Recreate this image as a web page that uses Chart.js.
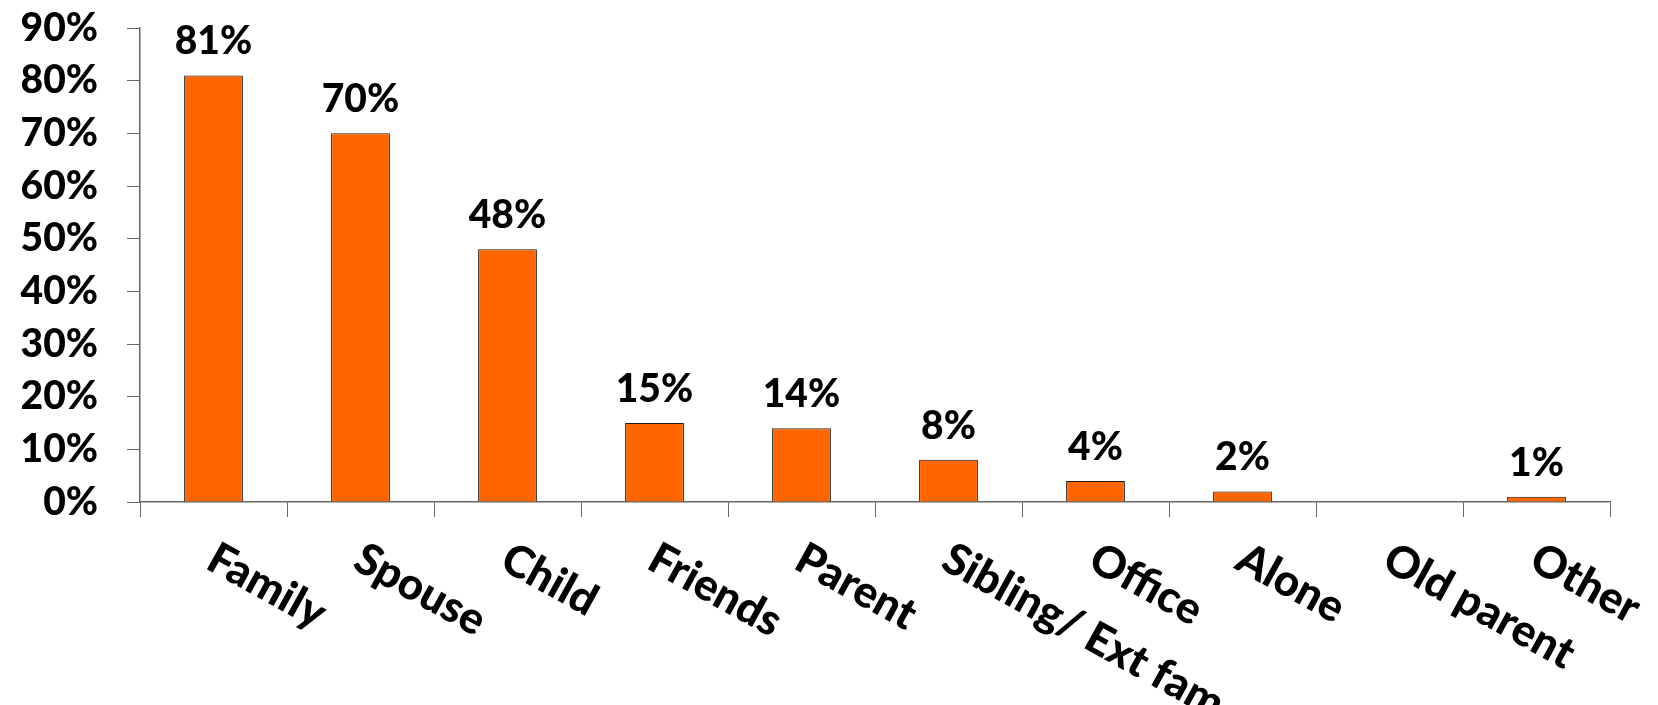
<!DOCTYPE html>
<html>
<head>
<meta charset="utf-8">
<script src="https://cdn.jsdelivr.net/npm/chart.js@4"></script>
<style>
  html, body { margin: 0; padding: 0; background: #fff; }
  #wrap { width: 1658px; height: 705px; }
</style>
</head>
<body>
<div id="wrap"><canvas id="chartCanvas" width="1658" height="705"></canvas></div>
<script>
const categories = ['Family', 'Spouse', 'Child', 'Friends', 'Parent', 'Sibling/ Ext fam', 'Office', 'Alone', 'Old parent', 'Other'];
const shares = [81, 70, 48, 15, 14, 8, 4, 2, 0, 1];
const yTicks = [0, 10, 20, 30, 40, 50, 60, 70, 80, 90];

const FONT = 'Lato';
const FONT_SIZE = 39;
const CAT_FONT_SIZE = 44;
const axisColor = '#666666';

// value labels above each bar
const valueLabels = {
  id: 'valueLabels',
  afterDatasetsDraw(chart) {
    const ctx = chart.ctx;
    const meta = chart.getDatasetMeta(0);
    ctx.save();
    ctx.font = `900 ${FONT_SIZE}px "${FONT}"`;
    ctx.fillStyle = '#000';
    ctx.textAlign = 'center';
    ctx.textBaseline = 'alphabetic';
    meta.data.forEach((bar, i) => {
      if (!shares[i]) return;
      ctx.fillText(shares[i] + '%', bar.x, bar.y - 21);
    });
    ctx.restore();
  }
};

// slanted category names, starting at each category centre
const slantedLabels = {
  id: 'slantedLabels',
  afterDraw(chart) {
    const ctx = chart.ctx;
    const xScale = chart.scales.x;
    ctx.save();
    ctx.font = `900 ${CAT_FONT_SIZE}px "${FONT}"`;
    ctx.fillStyle = '#000';
    ctx.textAlign = 'left';
    ctx.textBaseline = 'top';
    categories.forEach((name, i) => {
      const x = xScale.getPixelForTick(i);
      ctx.save();
      ctx.translate(x + 8, xScale.top + 34);
      ctx.rotate(29 * Math.PI / 180);
      ctx.fillText(name, 0, 0);
      ctx.restore();
    });
    ctx.restore();
  }
};

const ctx = document.getElementById('chartCanvas').getContext('2d');
new Chart(ctx, {
  type: 'bar',
  data: {
    labels: categories,
    datasets: [{
      data: shares,
      backgroundColor: '#FF6600',
      borderColor: '#1a1a1a',
      borderWidth: 1,
      barPercentage: 0.4,
      categoryPercentage: 1.0
    }]
  },
  options: {
    responsive: false,
    animation: false,
    layout: { padding: { top: 28, right: 48, left: 0, bottom: 0 } },
    plugins: { legend: { display: false }, tooltip: { enabled: false } },
    scales: {
      x: {
        grid: { offset: true, drawOnChartArea: false, drawTicks: true, tickLength: 15, color: axisColor },
        border: { display: true, color: axisColor, width: 1.5 },
        ticks: { display: false },
        afterFit(scale) { scale.height = 705 - 502; }
      },
      y: {
        min: 0,
        max: 90,
        afterBuildTicks(scale) { scale.ticks = yTicks.map(v => ({ value: v })); },
        grid: { drawOnChartArea: false, drawTicks: true, tickLength: 13, color: axisColor },
        border: { display: true, color: axisColor, width: 1.5 },
        ticks: {
          color: '#000',
          padding: 29,
          font: { family: FONT, size: FONT_SIZE, weight: '900' },
          callback: v => v + '%'
        },
        afterFit(scale) {
          scale.width = 140;
          scale.paddingTop = 0;
          scale.paddingBottom = 0;
        }
      }
    }
  },
  plugins: [valueLabels, slantedLabels]
});
</script>
</body>
</html>
